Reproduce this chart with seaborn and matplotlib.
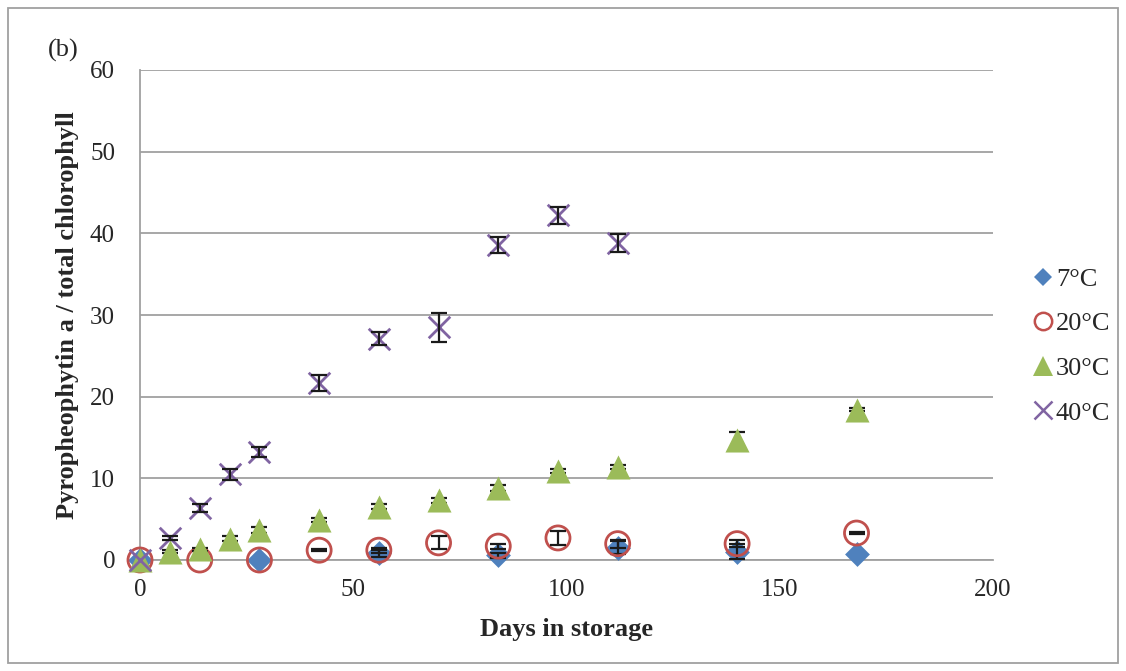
import matplotlib
matplotlib.use("Agg")
import matplotlib.pyplot as plt
import seaborn as sns
import pandas as pd
import numpy as np
from matplotlib.patches import Rectangle
from matplotlib.lines import Line2D

sns.set_theme(style="white")
plt.rcParams['font.family'] = ['Liberation Serif', 'DejaVu Serif']

days_7 = [0, 28, 56, 84, 112, 140, 168]
val_7 = [0.0, 0.0, 0.8, 0.6, 1.5, 1.0, 0.7]
err_7 = [0.0, 0.0, 0.4, 0.3, 0.8, 0.9, 0.0]

days_20 = [0, 14, 28, 42, 56, 70, 84, 98, 112, 140, 168]
val_20 = [0.0, 0.0, 0.0, 1.2, 1.2, 2.1, 1.7, 2.7, 2.0, 2.0, 3.3]
err_20 = [0.0, 0.1, 0.0, 0.1, 0.3, 0.8, 0.3, 0.9, 0.5, 0.4, 0.1]

days_30 = [0, 7, 14, 21, 28, 42, 56, 70, 84, 98, 112, 140, 168]
val_30 = [0.0, 1.0, 1.3, 2.6, 3.7, 4.9, 6.5, 7.3, 8.8, 10.9, 11.4, 14.7, 18.4]
err_30 = [0.0, 0.2, 0.2, 0.3, 0.4, 0.2, 0.3, 0.3, 0.4, 0.3, 0.2, 1.0, 0.2]

days_40 = [0, 7, 14, 21, 28, 42, 56, 70, 84, 98, 112]
val_40 = [0.0, 2.7, 6.4, 10.5, 13.2, 21.7, 27.1, 28.5, 38.6, 42.2, 38.8]
err_40 = [0.0, 0.3, 0.5, 0.7, 0.6, 1.0, 0.8, 1.8, 1.0, 1.0, 1.1]

labels = ["7\u00b0C", "20\u00b0C", "30\u00b0C", "40\u00b0C"]
x_ticks = [0, 50, 100, 150, 200]
y_ticks = [0, 10, 20, 30, 40, 50, 60]

series = [
    (days_7, val_7, err_7, labels[0]),
    (days_20, val_20, err_20, labels[1]),
    (days_30, val_30, err_30, labels[2]),
    (days_40, val_40, err_40, labels[3]),
]
frames = []
for d, v, e, lab in series:
    frames.append(pd.DataFrame({"day": d, "value": v, "err": e, "temp": lab}))
df = pd.concat(frames, ignore_index=True)

fig = plt.figure(figsize=(11.26, 6.71), dpi=100)
ax = fig.add_axes([140/1126, 1 - 560/671, (993-140)/1126, (560-70)/671])

colors = dict(zip(labels, ["#4F81BD", "#C0504D", "#9BBB59", "#8064A2"]))

def errs(lab, z):
    sub = df[(df.temp == lab) & (df.err > 0)]
    ax.errorbar(sub["day"], sub["value"], yerr=sub["err"], fmt="none", ecolor="#1a1a1a",
                elinewidth=1.6, capsize=6, capthick=1.6, zorder=z)

# 7C diamonds
sub = df[df.temp == labels[0]]
sns.scatterplot(data=sub, x="day", y="value", marker="D", s=160, color=colors[labels[0]],
                linewidth=0, ax=ax, zorder=3, legend=False, clip_on=False)
errs(labels[0], 3.5)
# 20C open circles
sub = df[df.temp == labels[1]]
sns.scatterplot(data=sub, x="day", y="value", marker="o", s=300, facecolor="none",
                edgecolor=colors[labels[1]], linewidth=2.0, ax=ax, zorder=4, legend=False, clip_on=False)
errs(labels[1], 4.5)
# 30C triangles (drawn over their error bars)
errs(labels[2], 4.8)
sub = df[df.temp == labels[2]]
sns.scatterplot(data=sub, x="day", y="value", marker="^", s=300, color=colors[labels[2]],
                linewidth=0, ax=ax, zorder=5, legend=False, clip_on=False)
# 40C x markers
sub = df[df.temp == labels[3]]
sns.scatterplot(data=sub, x="day", y="value", marker="x", s=240, color=colors[labels[3]],
                linewidth=2.0, ax=ax, zorder=6, legend=False, clip_on=False)
errs(labels[3], 6.5)

ax.set_xlim(0, 200)
ax.set_ylim(0, 60)
ax.set_xticks(x_ticks)
ax.set_yticks(y_ticks)
ax.set_xticklabels([str(t) for t in x_ticks], fontsize=18)
ax.set_yticklabels([str(t) for t in y_ticks], fontsize=18)
ax.tick_params(axis="x", length=0, pad=14)
ax.tick_params(axis="y", length=0, pad=18)
ax.grid(axis="y", color="#A0A0A0", linewidth=1.3)
ax.set_axisbelow(True)
for s in ["top", "right"]:
    ax.spines[s].set_visible(False)
ax.spines["left"].set_color("#A0A0A0")
ax.spines["bottom"].set_color("#A0A0A0")
ax.spines["left"].set_linewidth(1.3)
ax.spines["bottom"].set_linewidth(1.3)

ax.set_xlabel("Days in storage", fontsize=19, fontweight="bold", labelpad=12)
ax.set_ylabel("Pyropheophytin a / total chlorophyll", fontsize=19, fontweight="bold", labelpad=8)

fig.text(48/1126, 1 - 50/671, "(b)", fontsize=19, ha="left", va="center")

handles = [
    Line2D([], [], linestyle="none", marker="D", markersize=9.5, color=colors[labels[0]], markeredgewidth=0),
    Line2D([], [], linestyle="none", marker="o", markersize=12.5, markerfacecolor="none",
           markeredgecolor=colors[labels[1]], markeredgewidth=1.8),
    Line2D([], [], linestyle="none", marker="^", markersize=15, color=colors[labels[2]], markeredgewidth=0),
    Line2D([], [], linestyle="none", marker="x", markersize=12.5, color=colors[labels[3]], markeredgewidth=1.8),
]
fig.legend(handles, labels, loc="center left", bbox_to_anchor=(1019/1126, 1 - 346/671),
           frameon=False, fontsize=19, handletextpad=0.0, labelspacing=0.8, handlelength=1.0,
           borderaxespad=0.0)

fig.patches.append(Rectangle((8/1126, 8/671), (1118-8)/1126, (663-8)/671, transform=fig.transFigure,
                             fill=False, edgecolor="#A0A0A0", linewidth=1.3))

fig.savefig("out.png", dpi=100)
